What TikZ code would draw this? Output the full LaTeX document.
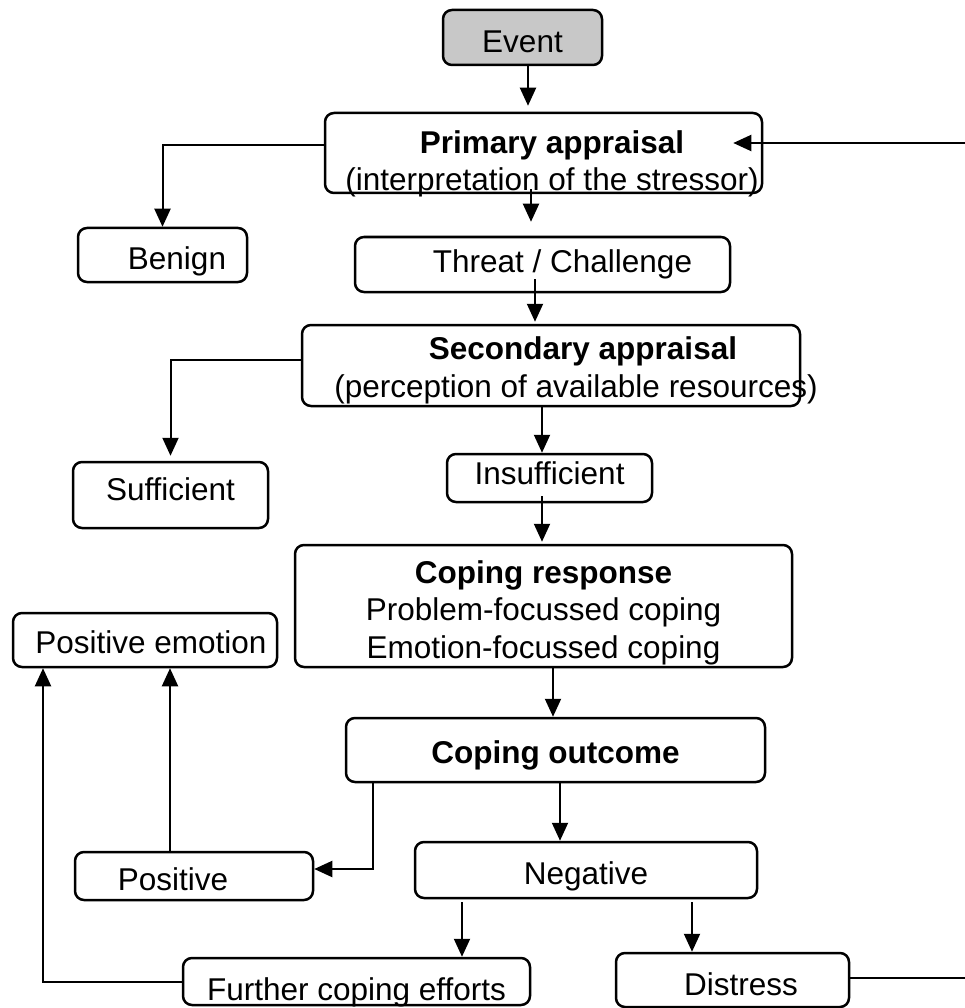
\documentclass[tikz,border=0pt]{standalone}
\usepackage{fontspec}
\setmainfont{Liberation Sans}
\usetikzlibrary{arrows.meta}
\definecolor{eventgray}{RGB}{200,200,200}
\newcommand{\txtshift}[2]{\hbox{\kern#1\relax#2\kern-#1\relax}}

\begin{document}
\begin{tikzpicture}[
    x=1pt, y=-1pt,
    box/.style={draw, rounded corners=9pt, line width=2.5pt, inner sep=0pt, align=center, font=\fontsize{31.5}{37.5}\selectfont},
    event/.style={box, fill=eventgray},
    txtbase/.style={text height=#1, text depth=0pt},
    arrow/.style={-{Triangle[length=18pt, width=16pt]}, line width=2pt},
    link/.style={line width=2pt}
]
\useasboundingbox (0,0) rectangle (965,1008);

% Appraisal
\node[event, minimum width=159pt, minimum height=55pt, txtbase=31pt] (event) at (522.5,37.5) {Event};
\node[box, minimum width=437pt, minimum height=80pt, txtbase=76pt] (primary) at (543.5,153) {\txtshift{8.5pt}{\textbf{Primary appraisal}}\\\txtshift{8.5pt}{(interpretation of the stressor)}};
\node[box, minimum width=169pt, minimum height=54pt, txtbase=28pt] (benign) at (162.5,255) {\txtshift{14.5pt}{Benign}};
\node[box, minimum width=375pt, minimum height=55pt, txtbase=15pt] (threat) at (542.5,264.5) {\txtshift{20pt}{Threat / Challenge}};
\node[box, minimum width=498pt, minimum height=81pt, txtbase=63pt] (secondary) at (551,365.5) {\txtshift{32pt}{\textbf{Secondary appraisal}}\\\txtshift{25pt}{(perception of available resources)}};
\node[box, minimum width=195pt, minimum height=66pt, txtbase=10pt] (sufficient) at (170.5,495) {Sufficient};
\node[box, minimum width=205pt, minimum height=48pt, txtbase=12pt] (insufficient) at (549.5,478) {Insufficient};

% Coping
\node[box, minimum width=497pt, minimum height=122pt, txtbase=104pt] (coping) at (543.5,606) {\textbf{Coping response}\\Problem-focussed coping\\Emotion-focussed coping};
\node[box, minimum width=419pt, minimum height=64pt, txtbase=26pt] (outcome) at (555.5,750) {\textbf{Coping outcome}};
\node[box, minimum width=264pt, minimum height=54pt, txtbase=26pt] (posemotion) at (145,640) {\txtshift{6pt}{Positive emotion}};
\node[box, minimum width=238pt, minimum height=48pt, txtbase=28pt] (positive) at (194,876) {\txtshift{-21pt}{Positive}};
\node[box, minimum width=342pt, minimum height=56pt, txtbase=28pt] (negative) at (586,870) {Negative};
\node[box, minimum width=347pt, minimum height=47pt, txtbase=38pt] (further) at (356.5,981.5) {Further coping efforts};
\node[box, minimum width=233pt, minimum height=54pt, txtbase=30pt] (distress) at (732.5,980) {\txtshift{8.5pt}{Distress}};

% Loop ends at the right edge
\coordinate (backin) at (965,143);
\coordinate (backout) at (965,978);

% Arrows
\draw[arrow, shorten >=6pt] ([xshift=5.5pt]event.south) -- ([xshift=5.5pt]event.south |- primary.north);
\draw[arrow] (backin) -- ([xshift=-30pt]primary.east |- backin);
\draw[arrow] ([yshift=8pt]primary.west) -| (benign.north);
\draw[arrow, shorten <=-5pt, shorten >=14pt] ([xshift=-12.5pt]primary.south) -- ([xshift=-12.5pt]primary.south |- threat.north);
\draw[arrow, shorten <=-14pt, shorten >=2pt] ([xshift=-7.5pt]threat.south) -- ([xshift=-7.5pt]threat.south |- secondary.north);
\draw[arrow, shorten >=5pt] ([yshift=5.5pt]secondary.west) -| (sufficient.north);
\draw[arrow] ([xshift=-9pt]secondary.south) -- ([xshift=-9pt]secondary.south |- insufficient.north);
\draw[arrow, shorten <=-7pt, shorten >=2pt] ([xshift=-7.5pt]insufficient.south) -- ([xshift=-7.5pt]insufficient.south |- coping.north);
\draw[arrow] ([xshift=9.5pt]coping.south) -- ([xshift=9.5pt]coping.south |- outcome.north);
\draw[arrow] ([xshift=28pt]outcome.south west) |- ([yshift=7pt]positive.east);
\draw[arrow] ([xshift=4.5pt]outcome.south) -- ([xshift=4.5pt]outcome.south |- negative.north);
\draw[arrow, shorten <=3pt] ([xshift=-124pt]negative.south) -- ([xshift=-124pt]negative.south |- further.north);
\draw[arrow, shorten <=3pt] ([xshift=106pt]negative.south) -- ([xshift=106pt]negative.south |- distress.north);
\draw[arrow] ([xshift=-24pt]positive.north) -- ([xshift=-24pt]positive.north |- posemotion.south);
\draw[arrow] (further.west) -| ([xshift=-102pt]posemotion.south);
\draw[link] (distress.east |- backout) -- (backout);

\end{tikzpicture}
\end{document}
